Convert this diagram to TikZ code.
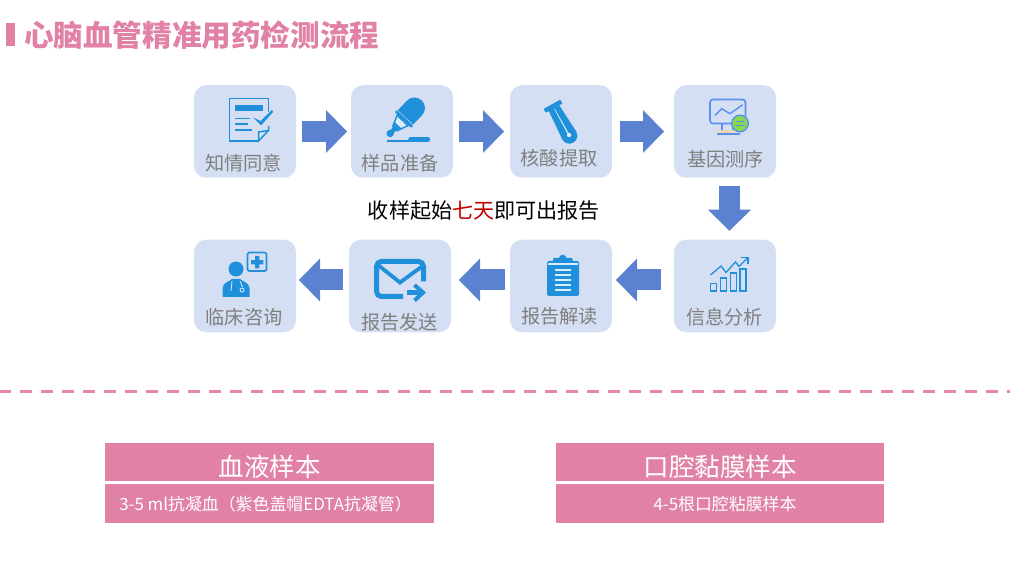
\documentclass[tikz,border=0pt]{standalone}
\usepackage{fontspec}
\setmainfont{Noto Sans CJK SC}
\usepackage{xcolor}
\usetikzlibrary{arrows.meta, positioning, calc}
\definecolor{pinkbar}{HTML}{E081A5}
\definecolor{dashpink}{HTML}{E686A9}
\definecolor{boxblue}{HTML}{D5DFF3}
\definecolor{arrowblue}{HTML}{5B81D1}
\definecolor{iconblue}{HTML}{2090DA}
\definecolor{iconpale}{HTML}{D9ECF9}
\definecolor{labelgray}{HTML}{7F7F7F}
\definecolor{lineblue}{HTML}{5B8FF0}
\definecolor{standtan}{HTML}{EAD8B0}
\definecolor{swapgreen}{HTML}{8AD84E}
\tikzset{
    stepbox/.style={rectangle, rounded corners=12pt, minimum width=102pt, minimum height=92.5pt, inner sep=0pt, outer sep=0pt, fill=boxblue},
    steplabel/.style={inner sep=0pt, text=labelgray, font=\fontsize{19.2}{19.2}\selectfont},
    flow/.style={line width=21pt, draw=arrowblue, -{Triangle[length=21pt, width=43pt, line width=0pt, sep=0pt]}},
    headbar/.style={rectangle, minimum width=329pt, minimum height=38pt, inner sep=0pt, outer sep=0pt, fill=pinkbar, text=white, text height=28pt, text depth=0pt, font=\fontsize{25.5}{25.5}\selectfont},
    subbar/.style={rectangle, minimum width=329pt, minimum height=39pt, inner sep=0pt, outer sep=0pt, fill=pinkbar, text=white, text height=14pt, text depth=0pt, font=\fontsize{16.9}{17}\selectfont},
    iconline/.style={draw=iconblue, line width=1.5pt}
}
\begin{document}
\begin{tikzpicture}[x=1pt, y=-1pt]
  \useasboundingbox (0,0) rectangle (1010,564);
  \fill[pinkbar] (6,23) rectangle (15,46);
  \node[inner sep=0pt, anchor=west, text=pinkbar, font=\fontsize{29.6}{30}\selectfont\bfseries] (title) at (24,35) {心脑血管精准用药检测流程};
  \node[stepbox] (consent) at (245,131.5) {};
  \node[stepbox, right=55pt of consent] (sample) {};
  \node[stepbox, right=57pt of sample] (extract) {};
  \node[stepbox, right=62pt of extract] (seq) {};
  \node[stepbox] (analysis) at (725,286) {};
  \node[stepbox, left=62pt of analysis] (interp) {};
  \node[stepbox, left=59pt of interp] (send) {};
  \node[stepbox, left=53pt of send] (clinic) {};
  \node[steplabel] (consentt) at (243.5,163.5) {知情同意};
  \node[steplabel] (samplet) at (400,163.5) {样品准备};
  \node[steplabel] (extractt) at (559,158.5) {核酸提取};
  \node[steplabel] (seqt) at (725.5,159.5) {基因测序};
  \node[steplabel] (analysist) at (724.5,317.5) {信息分析};
  \node[steplabel] (interpt) at (559.5,316.5) {报告解读};
  \node[steplabel] (sendt) at (399.5,322.5) {报告发送};
  \node[steplabel] (clinict) at (244,317.5) {临床咨询};
  \node[inner sep=0pt, font=\fontsize{21.1}{21}\selectfont] (note) at (484,211) {收样起始\textcolor{red!75!black}{七天}即可出报告};
  \draw[flow, shorten <=6pt, shorten >=4pt] (consent) -- (sample);
  \draw[flow, shorten <=6pt, shorten >=6pt] (sample) -- (extract);
  \draw[flow, shorten <=8pt, shorten >=10pt] (extract) -- (seq);
  \draw[flow, shorten <=8pt, shorten >=9pt] ([xshift=4.5pt]seq.south) -- ([xshift=4.5pt]analysis.north);
  \draw[flow, shorten <=13pt, shorten >=4pt] ([yshift=6pt]analysis.west) -- ([yshift=6pt]interp.east);
  \draw[flow, shorten <=5pt, shorten >=8pt] ([yshift=6pt]interp.west) -- ([yshift=6pt]send.east);
  \draw[flow, shorten <=6pt, shorten >=3pt] ([yshift=6pt]send.west) -- ([yshift=6pt]clinic.east);
  % consent form
  \draw[iconline] (258,141) -- (229.5,141) -- (229.5,98.5) -- (268.5,98.5) -- (268.5,112);
  \draw[iconline] (268.5,126) -- (268.5,130.5) -- (258.5,141) -- (258.5,132) -- (268.5,130.5);
  \fill[iconblue] (235,105) rectangle (263,111);
  \draw[iconline] (235,118.5) -- (250,118.5) (235,124) -- (248,124) (235,130) -- (252,130);
  \fill[iconblue] (253,117.5) -- (260.5,121) -- (272,110) -- (273,112) -- (261,125.5) -- cycle;
  % dropper
  \begin{scope}[shift={(404,119)}, rotate=-43.5]
    \fill[iconblue] (-10.5,-2.2) -- (-10.5,-15.2) arc (180:360:10.5) -- (10.5,-2.2) -- cycle;
    \fill[iconblue, rounded corners=1pt] (-11.5,-1.5) rectangle (11.5,1.5);
    \fill[iconblue] (-8.5,1.5) -- (8.5,1.5) -- (3.5,14) -- (-3.5,14) -- cycle;
    \fill[iconpale] (-6.2,3) -- (6.2,3) -- (4,8.5) -- (-4,8.5) -- cycle;
    \fill[iconblue] (-2.2,13) rectangle (2.2,18);
    \fill[iconblue] (0,20) circle (3.7pt);
  \end{scope}
  \draw[iconblue, line width=2.4pt] (387,141.2) -- (410,141.2);
  \draw[iconblue, line width=5.6pt, line cap=round] (411,139.4) -- (427.5,139.4);
  % test tube
  \begin{scope}[shift={(553,106.2)}, rotate=29]
    \fill[iconblue, rounded corners=0.5pt] (-9.5,-2.2) rectangle (9.5,2.2);
    \fill[iconblue] (-6,2.2) -- (6,2.2) -- (8,33.7) -- (-8,33.7) -- cycle;
    \fill[iconblue] (0,33.7) circle (8pt);
    \fill[iconpale] (-0.3,3.5) -- (0.3,3.5) -- (0.6,31) -- (-0.6,31) -- cycle;
    \fill[iconpale] (0,33) circle (2.2pt);
  \end{scope}
  % monitor
  \draw[lineblue, line width=1.7pt, rounded corners=3pt] (710,99.5) rectangle (745.5,123.5);
  \draw[lineblue, line width=1.4pt] (715,115.3) -- (721.7,108.7) -- (730,113.7) -- (742.7,104.7);
  \draw[lineblue, line width=1.5pt] (722,123.5) -- (722,131) (733,123.5) -- (733,131) (717,134) -- (740,134);
  \fill[standtan] (718,130.5) rectangle (739,133.2);
  \draw[lineblue, line width=1.4pt, fill=swapgreen] (740,123.5) circle (8.3pt);
  \draw[lineblue, line width=0.9pt, -{Stealth[length=2.5pt]}] (735.5,121.5) -- (745,121.5);
  \draw[lineblue, line width=0.9pt, -{Stealth[length=2.5pt]}] (745,125.5) -- (735.5,125.5);
  % chart
  \draw[iconline] (710.5,283.5) rectangle (716.5,291) (720.5,278) rectangle (726.5,291) (730.5,273) rectangle (736.5,291) (740,269) rectangle (746,291);
  \draw[iconline, line width=1.3pt] (710.5,275) -- (721,266) -- (726,272.5) -- (735.5,262) -- (739,266.5) -- (748,257.5);
  \draw[iconline, line width=1.3pt] (741,257.5) -- (748,257.5) -- (748,264);
  % clipboard
  \fill[iconblue, rounded corners=1.5pt] (547,261) rectangle (579,296);
  \fill[iconblue, rounded corners=1pt] (553,258) rectangle (572.5,264);
  \fill[iconblue] (562.7,258.5) circle (3.8pt);
  \draw[iconpale, line width=1.1pt] (548,264) -- (578,264) (555,270) -- (571,270) (555,275) -- (571,275) (555,280) -- (571,280) (555,285) -- (571,285) (555,290) -- (571,290);
  % envelope
  \draw[iconblue, line width=5pt, rounded corners=5pt] (423.5,281.5) -- (423.5,261.5) -- (376.5,261.5) -- (376.5,296.5) -- (403,296.5);
  \draw[iconblue, line width=3.8pt] (378,265) -- (400,282.5) -- (424,265);
  \draw[iconblue, line width=5pt] (407,292.5) -- (421,292.5);
  \draw[iconblue, line width=4pt] (414.5,285) -- (423,292.5) -- (414.5,300.5);
  % doctor
  \fill[iconblue] (236,269) circle (7.5pt);
  \fill[iconblue] (222.5,297) -- (222.5,288) .. controls (223,283) and (228,282) .. (232,279) -- (240,279) .. controls (244,282) and (249,283) .. (249.5,288) -- (249.5,297) -- cycle;
  \draw[iconpale, line width=0.8pt] (232,281) -- (231,291) (240,281) -- (242.5,287);
  \draw[iconpale, line width=0.8pt] (242,290) circle (2pt);
  \draw[iconblue, line width=1.7pt, rounded corners=1.5pt, fill=boxblue] (247.5,252.5) rectangle (266.5,271);
  \fill[iconblue] (255,256) rectangle (259.3,268.5) (251,260.1) rectangle (263.4,264.4);
  % divider
  \draw[dashpink, line width=3pt, dash pattern=on 12pt off 9pt, dash phase=1pt] (0,391.5) -- (1010,391.5);
  % sample bars
  \node[headbar] (blood) at (269.5,462) {血液样本};
  \node[subbar, below=3pt of blood] (bloodsub) {3-5 ml抗凝血（紫色盖帽EDTA抗凝管）\kern8pt};
  \node[headbar, minimum width=328pt] (oral) at (720,462) {口腔黏膜样本};
  \node[subbar, minimum width=328pt, below=3pt of oral] (oralsub) {\hspace{10pt}4-5根口腔粘膜样本};
\end{tikzpicture}
\end{document}
